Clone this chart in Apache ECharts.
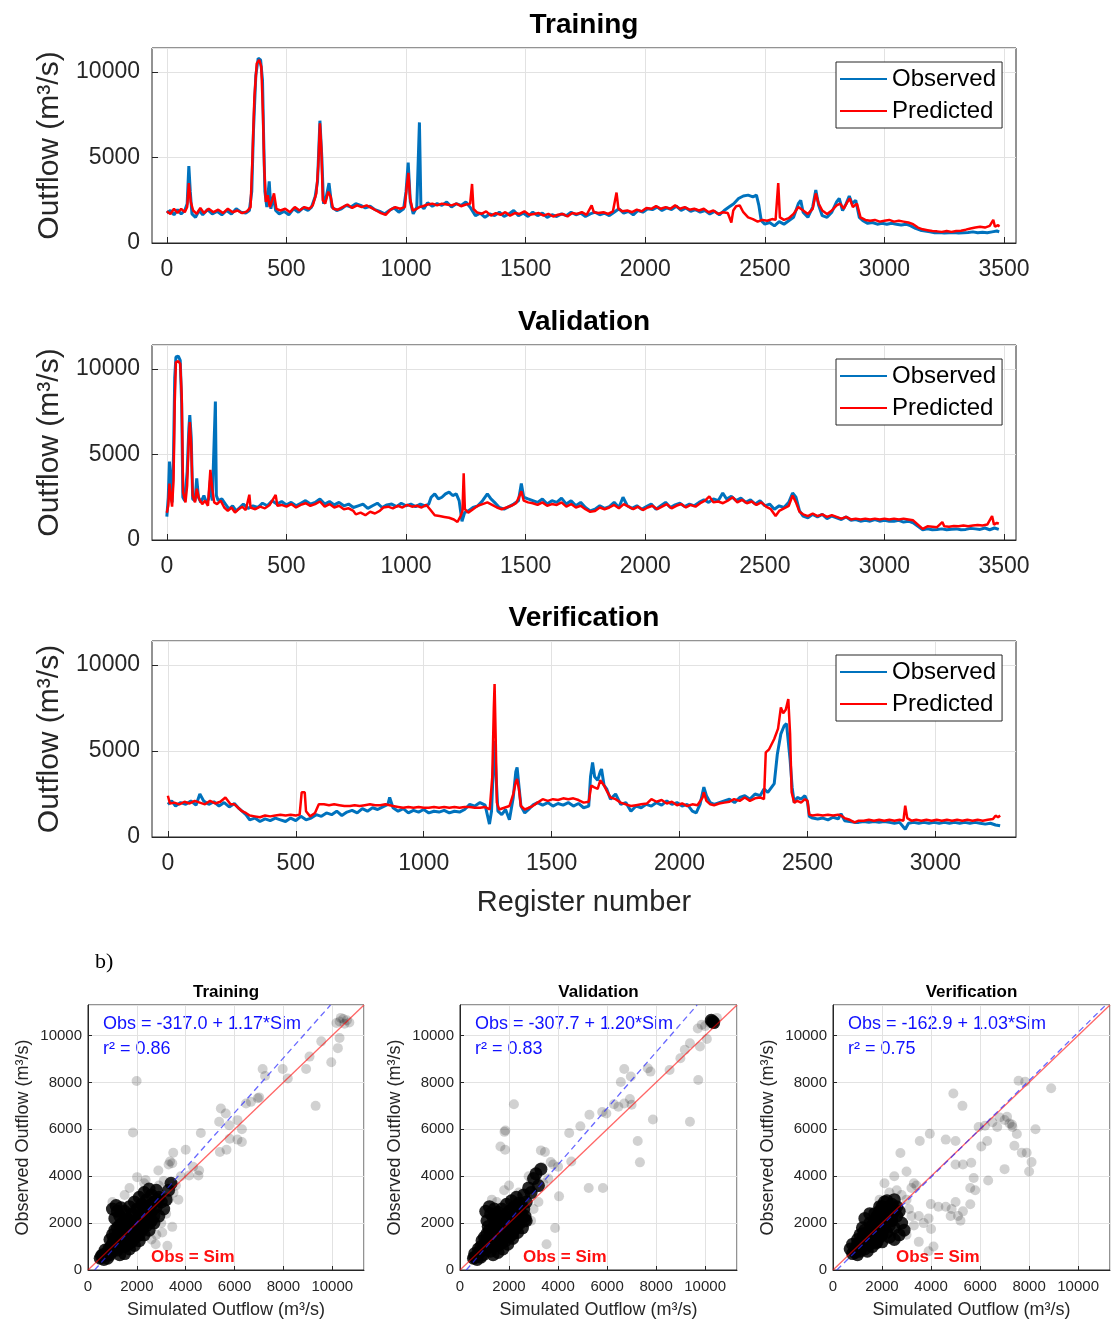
<!DOCTYPE html>
<html>
<head>
<meta charset="utf-8">
<script src="https://cdn.jsdelivr.net/npm/echarts@6/dist/echarts.min.js"></script>
<style>
  html, body { margin: 0; padding: 0; background: #fff; }
  #chart { width: 1114px; height: 1322px; }
</style>
</head>
<body>
<div id="chart"></div>
<script>
// ---- data ----
const panelNames = ['Training', 'Validation', 'Verification'];
const regTicksLong = [0, 500, 1000, 1500, 2000, 2500, 3000, 3500];
const regTicksShort = [0, 500, 1000, 1500, 2000, 2500, 3000];

// [register, outflow]
const trainObs = [[0,1750],[15,1900],[30,1650],[45,1950],[60,1700],[75,1900],[85,2300],[92,4500],[98,3000],[105,1700],[120,1500],[135,1900],[150,1650],[170,1950],[190,1700],[210,1850],[230,1650],[250,1900],[270,1700],[290,2000],[310,1800],[330,1750],[345,1900],[355,3000],[362,6500],[372,9800],[382,10800],[392,10700],[400,9500],[405,6000],[410,3000],[418,2100],[428,3600],[435,2000],[445,2700],[455,1900],[470,1700],[490,1850],[510,1650],[530,2000],[550,1800],[570,2050],[590,1900],[605,2100],[620,2700],[630,3600],[640,7150],[648,5000],[655,2300],[665,2600],[678,3500],[690,2100],[710,1900],[730,2000],[750,2200],[770,2100],[790,2300],[810,2200],[830,2050],[850,2150],[870,1950],[890,1850],[910,1700],[930,1900],[950,2050],[970,1800],[990,2000],[1000,3000],[1009,4700],[1018,2400],[1030,1700],[1045,2100],[1056,7050],[1062,2200],[1075,2000],[1090,2350],[1110,2150],[1130,2300],[1150,2200],[1170,2400],[1190,2100],[1210,2300],[1230,2200],[1250,2400],[1270,2050],[1290,1600],[1310,1750],[1330,1500],[1350,1700],[1370,1600],[1390,1800],[1410,1550],[1430,1700],[1450,1900],[1470,1600],[1490,1750],[1510,1550],[1530,1800],[1550,1600],[1570,1750],[1590,1500],[1610,1650],[1630,1550],[1650,1700],[1670,1600],[1690,1800],[1710,1650],[1730,1750],[1750,1550],[1770,1700],[1790,1800],[1810,1650],[1830,1750],[1850,1600],[1870,1800],[1890,2000],[1910,1750],[1930,1850],[1950,1650],[1970,1900],[1990,1800],[2010,2000],[2030,1950],[2050,2100],[2070,1900],[2090,2050],[2110,1950],[2130,2150],[2150,1900],[2170,2050],[2190,1850],[2210,1950],[2230,1800],[2250,1900],[2270,1700],[2290,1850],[2310,1650],[2330,1900],[2350,2100],[2370,2300],[2390,2600],[2410,2750],[2430,2800],[2450,2700],[2465,2800],[2475,2200],[2485,1300],[2500,1100],[2520,1200],[2540,1000],[2560,1250],[2580,1100],[2600,1300],[2620,1500],[2640,2300],[2650,2500],[2660,1800],[2680,1500],[2700,2100],[2713,3100],[2725,2200],[2740,1600],[2760,1500],[2780,1800],[2800,2400],[2811,2600],[2825,1900],[2840,2300],[2853,2750],[2865,2300],[2880,2500],[2895,1500],[2910,1300],[2930,1150],[2950,1200],[2970,1100],[2990,1150],[3010,1100],[3030,1150],[3050,1100],[3070,1050],[3090,1100],[3110,1000],[3130,850],[3150,750],[3170,700],[3190,650],[3210,600],[3230,620],[3250,580],[3270,600],[3290,620],[3310,580],[3330,600],[3350,620],[3370,650],[3390,600],[3410,630],[3430,600],[3450,650],[3470,700],[3480,650]];
const trainPred = [[0,1850],[15,1700],[30,2000],[45,1750],[60,2000],[75,1800],[85,2100],[92,3500],[100,2400],[110,1900],[125,1700],[140,2050],[155,1750],[175,2000],[195,1800],[215,1950],[235,1750],[255,2000],[275,1800],[295,1900],[315,1750],[335,1850],[350,2100],[358,5000],[366,8500],[376,10500],[386,10700],[395,10300],[402,7500],[407,4500],[414,2400],[422,2800],[430,2100],[440,2500],[448,2900],[458,2000],[475,1900],[495,2000],[515,1800],[535,2100],[555,1900],[575,2100],[595,2000],[610,2200],[625,2900],[633,4500],[640,7000],[646,5500],[652,2500],[662,2300],[675,3000],[685,2700],[695,2000],[715,1950],[735,2100],[755,2250],[775,2050],[795,2200],[815,2100],[835,2200],[855,2050],[875,1900],[895,1750],[915,1650],[935,1950],[955,2100],[975,2000],[995,2100],[1003,3300],[1010,4100],[1017,2600],[1028,1900],[1045,2000],[1056,2100],[1070,2150],[1090,2250],[1110,2300],[1130,2200],[1150,2300],[1170,2250],[1190,2200],[1210,2300],[1230,2150],[1250,2250],[1268,2300],[1276,3450],[1282,2000],[1295,1800],[1315,1700],[1335,1850],[1355,1600],[1375,1750],[1395,1650],[1415,1800],[1435,1600],[1455,1750],[1475,1700],[1495,1850],[1515,1650],[1535,1700],[1555,1750],[1575,1600],[1595,1700],[1615,1550],[1635,1650],[1655,1700],[1675,1550],[1695,1750],[1715,1700],[1735,1800],[1755,1650],[1776,2200],[1785,1800],[1805,1750],[1825,1800],[1845,1700],[1865,1850],[1880,2950],[1888,2000],[1905,1850],[1925,1900],[1945,1800],[1965,1950],[1985,1850],[2005,2050],[2025,2000],[2045,2150],[2065,2000],[2085,2100],[2105,2000],[2125,2200],[2145,2000],[2165,2100],[2185,1950],[2205,2000],[2225,1900],[2245,2000],[2265,1800],[2285,1900],[2305,1700],[2325,1800],[2345,1750],[2360,1200],[2368,1900],[2380,2150],[2395,2200],[2410,1800],[2430,1500],[2450,1400],[2470,1250],[2490,1350],[2510,1300],[2530,1400],[2545,1350],[2556,3500],[2563,1500],[2580,1350],[2600,1450],[2620,1700],[2640,2100],[2660,1900],[2680,1700],[2700,2000],[2713,2900],[2725,2300],[2740,1900],[2760,1700],[2780,1900],[2800,2200],[2815,2300],[2830,2000],[2845,2400],[2855,2600],[2868,2100],[2885,2300],[2900,1500],[2920,1350],[2940,1300],[2960,1350],[2980,1250],[3000,1300],[3020,1350],[3040,1250],[3060,1300],[3080,1250],[3100,1200],[3120,1100],[3140,900],[3160,800],[3180,750],[3200,700],[3220,680],[3240,650],[3260,700],[3280,650],[3300,700],[3320,720],[3340,780],[3360,850],[3380,900],[3400,950],[3420,900],[3440,1000],[3455,1350],[3462,950],[3475,1050],[3480,950]];

const validObs = [[0,1370],[6,2500],[11,4590],[16,3500],[22,2200],[28,5000],[33,9500],[38,10700],[48,10750],[56,10500],[62,8000],[67,2500],[75,2300],[85,4000],[92,6500],[96,7300],[102,6000],[108,2400],[118,2300],[125,3600],[132,2500],[142,2200],[155,2600],[165,2200],[175,2400],[182,3500],[190,2300],[197,2200],[203,8100],[207,2600],[215,2300],[230,2400],[245,2100],[260,1800],[275,2000],[290,1700],[305,1900],[320,2100],[340,1850],[360,2000],[380,1900],[400,2150],[420,2000],[440,2300],[460,2100],[480,2250],[500,2050],[520,2200],[540,2000],[560,2150],[580,2300],[600,2100],[620,2200],[640,2400],[660,2100],[680,2250],[700,2050],[720,2200],[740,2000],[760,2100],[780,1900],[800,2000],[820,2100],[840,1850],[860,2000],[880,2150],[900,1900],[920,2050],[940,2100],[960,1950],[980,2150],[1000,2000],[1020,2100],[1040,1950],[1060,2100],[1080,2000],[1095,2100],[1105,2500],[1120,2700],[1135,2400],[1150,2500],[1165,2700],[1180,2800],[1195,2600],[1210,2700],[1222,2300],[1234,1100],[1245,1600],[1260,1700],[1280,1900],[1300,2000],[1320,2300],[1340,2700],[1355,2400],[1370,2200],[1390,1900],[1410,1800],[1430,1950],[1450,2100],[1470,2300],[1482,3300],[1492,2500],[1510,2400],[1530,2300],[1550,2200],[1570,2400],[1590,2100],[1610,2300],[1630,2200],[1650,2450],[1670,2100],[1690,2300],[1710,2000],[1730,2200],[1750,1900],[1770,1700],[1790,1800],[1810,2000],[1830,1850],[1850,1950],[1870,2200],[1890,1900],[1907,2500],[1925,2000],[1945,1850],[1965,2000],[1985,1800],[2005,1950],[2025,2100],[2045,1800],[2065,2000],[2085,2200],[2105,1900],[2125,2050],[2145,2150],[2165,1950],[2185,2100],[2205,2000],[2225,2200],[2245,2350],[2265,2200],[2285,2400],[2305,2300],[2324,2750],[2340,2400],[2360,2550],[2380,2300],[2400,2450],[2420,2200],[2440,2350],[2460,2100],[2480,2300],[2500,2000],[2520,2100],[2540,1800],[2560,2000],[2580,1900],[2600,2200],[2616,2750],[2630,2500],[2645,1700],[2660,1400],[2680,1300],[2700,1500],[2720,1350],[2740,1500],[2760,1250],[2780,1400],[2800,1300],[2820,1200],[2840,1350],[2860,1150],[2880,1200],[2900,1100],[2920,1150],[2940,1100],[2960,1200],[2980,1100],[3000,1150],[3020,1100],[3040,1100],[3060,1150],[3080,1050],[3100,1100],[3120,1000],[3140,800],[3160,600],[3180,650],[3200,600],[3220,620],[3240,650],[3260,600],[3280,630],[3300,650],[3320,600],[3340,620],[3360,680],[3380,650],[3400,620],[3420,700],[3440,600],[3460,700],[3478,620]];
const validPred = [[0,1600],[6,2000],[11,3300],[16,2600],[22,1950],[28,3500],[33,8000],[38,10400],[48,10450],[56,10300],[62,8500],[68,2800],[78,2200],[85,3200],[92,6000],[96,6900],[102,5500],[108,2600],[118,2200],[125,3000],[135,2400],[148,2100],[160,2300],[172,2000],[182,4100],[190,3000],[198,2200],[210,2100],[225,2300],[240,1900],[255,1700],[270,1900],[285,1600],[300,1800],[315,1950],[330,1750],[345,2650],[350,1900],[370,1800],[390,1950],[410,1850],[430,2050],[455,2640],[462,2000],[480,2050],[500,1950],[520,2100],[540,1900],[560,2050],[580,2150],[600,2000],[620,2100],[640,2250],[660,1950],[680,2100],[700,1900],[720,2000],[740,1800],[760,1850],[780,1700],[790,1500],[810,1600],[830,1450],[850,1650],[870,1550],[890,1700],[905,1900],[925,1950],[945,1850],[965,2000],[985,1900],[1005,2050],[1025,1950],[1045,2000],[1065,1900],[1085,2050],[1100,1800],[1120,1450],[1140,1400],[1160,1350],[1180,1300],[1200,1200],[1215,1050],[1228,1400],[1236,1700],[1241,3900],[1246,1800],[1260,1600],[1280,1800],[1300,2000],[1320,2100],[1340,2200],[1360,2050],[1380,1900],[1400,1800],[1420,1900],[1440,2000],[1460,2150],[1475,2600],[1482,2850],[1492,2300],[1510,2200],[1530,2150],[1550,2050],[1570,2200],[1590,2000],[1610,2100],[1630,2050],[1650,2200],[1670,1950],[1690,2100],[1710,1900],[1730,2000],[1750,1800],[1770,1650],[1790,1700],[1810,1900],[1830,1800],[1850,1900],[1870,2050],[1890,1850],[1910,2100],[1930,1950],[1950,1800],[1970,1950],[1990,1750],[2010,1900],[2030,2000],[2050,1800],[2070,1950],[2090,2100],[2110,1850],[2130,2000],[2150,2100],[2170,1900],[2190,2050],[2210,1950],[2230,2150],[2250,2300],[2268,2550],[2285,2200],[2305,2250],[2325,2150],[2345,2300],[2366,2500],[2385,2200],[2405,2350],[2425,2150],[2445,2250],[2465,2050],[2485,2200],[2505,1950],[2525,1800],[2545,1400],[2560,1700],[2580,1850],[2600,2000],[2616,2600],[2630,2200],[2645,1650],[2660,1500],[2680,1400],[2700,1550],[2720,1400],[2740,1500],[2760,1350],[2780,1450],[2800,1350],[2820,1250],[2840,1350],[2860,1200],[2880,1250],[2900,1200],[2920,1250],[2940,1200],[2960,1250],[2980,1200],[3000,1250],[3020,1200],[3040,1250],[3060,1200],[3080,1250],[3100,1200],[3120,1150],[3140,900],[3160,650],[3180,800],[3200,780],[3220,750],[3242,1050],[3250,800],[3270,780],[3290,820],[3310,800],[3330,850],[3350,800],[3370,850],[3390,880],[3410,850],[3430,900],[3450,1400],[3458,900],[3470,1000],[3478,950]];

const verifObs = [[0,1900],[15,2100],[30,1800],[50,2000],[70,1900],[90,2100],[110,1850],[125,2500],[140,2100],[160,1900],[180,2050],[200,1800],[220,2000],[240,1750],[260,1950],[275,1700],[290,1500],[305,1300],[320,1000],[340,1100],[360,900],[380,1050],[400,950],[420,1100],[440,1000],[460,900],[480,1100],[500,950],[520,1200],[540,1000],[560,1100],[580,1300],[600,1200],[620,1400],[640,1300],[660,1500],[680,1250],[700,1450],[720,1550],[740,1400],[760,1650],[780,1500],[800,1700],[820,1600],[840,1750],[860,1900],[867,2300],[880,1700],[900,1500],[920,1650],[940,1400],[960,1550],[980,1450],[1000,1600],[1020,1400],[1040,1500],[1060,1450],[1080,1550],[1100,1400],[1120,1500],[1140,1450],[1160,1600],[1180,1900],[1200,1800],[1220,2000],[1240,1850],[1257,750],[1265,1500],[1272,4000],[1277,5600],[1283,3500],[1290,1500],[1305,1300],[1320,1600],[1335,1000],[1350,2300],[1360,3800],[1365,4050],[1372,3000],[1380,1800],[1395,1400],[1410,1600],[1426,1850],[1445,2000],[1465,1850],[1485,2000],[1505,1800],[1525,1950],[1545,1850],[1565,2000],[1585,1800],[1605,1950],[1625,1700],[1645,1800],[1652,3500],[1660,4340],[1668,3500],[1680,3300],[1690,3800],[1695,3950],[1705,3000],[1715,2800],[1730,2200],[1750,2500],[1770,1900],[1790,2000],[1810,1500],[1830,1800],[1850,1700],[1870,1900],[1890,1800],[1910,2000],[1930,1850],[1950,2100],[1970,1900],[1990,2000],[2010,1800],[2030,1900],[2050,1500],[2065,1400],[2080,1900],[2095,2900],[2105,2400],[2120,2000],[2135,1900],[2155,2000],[2175,2100],[2195,2200],[2215,2000],[2235,2300],[2255,2400],[2275,2200],[2295,2500],[2315,2400],[2330,2800],[2345,2600],[2360,2900],[2370,3100],[2382,4800],[2396,6000],[2409,6470],[2418,6600],[2425,6500],[2432,4500],[2440,2900],[2448,2000],[2460,2300],[2475,2200],[2490,2400],[2500,2050],[2507,1200],[2520,1100],[2540,1050],[2560,1100],[2580,1000],[2600,1150],[2620,1050],[2631,1350],[2645,950],[2665,900],[2684,850],[2700,850],[2720,900],[2740,850],[2760,900],[2780,850],[2800,900],[2820,850],[2840,800],[2860,850],[2882,450],[2895,800],[2915,850],[2935,800],[2955,850],[2975,800],[2995,850],[3015,800],[3035,850],[3055,800],[3075,850],[3095,800],[3115,850],[3135,800],[3155,850],[3175,800],[3195,750],[3215,800],[3235,700],[3253,650]];
const verifPred = [[0,2400],[8,1950],[25,2000],[45,1900],[65,2050],[85,1950],[105,2100],[125,2000],[145,1900],[165,2100],[185,1950],[205,2050],[225,2300],[245,1900],[260,1900],[275,1700],[290,1500],[305,1400],[320,1250],[340,1200],[360,1150],[380,1250],[400,1200],[420,1250],[440,1300],[460,1250],[480,1300],[500,1250],[515,1300],[523,2600],[535,2600],[540,1500],[556,1200],[575,1400],[590,1900],[610,1900],[630,1850],[650,1900],[670,1850],[690,1800],[712,1800],[730,1850],[750,1800],[770,1850],[790,1900],[810,1850],[830,1850],[850,1900],[867,1850],[880,1800],[900,1750],[920,1700],[940,1750],[960,1700],[980,1750],[1000,1700],[1020,1700],[1040,1750],[1060,1700],[1080,1750],[1100,1700],[1120,1750],[1140,1700],[1160,1750],[1180,1750],[1200,1700],[1220,1700],[1240,1750],[1258,1600],[1268,3500],[1274,7500],[1277,8900],[1281,6000],[1286,2000],[1295,1600],[1315,1700],[1335,1800],[1350,2500],[1360,3200],[1365,3370],[1372,2800],[1380,1800],[1395,1600],[1410,1700],[1426,1800],[1445,2000],[1465,2200],[1485,2100],[1505,2200],[1525,2150],[1545,2250],[1565,2200],[1585,2250],[1605,2150],[1625,2000],[1645,2050],[1655,3000],[1665,2900],[1680,2800],[1690,3300],[1695,3370],[1705,3000],[1715,2700],[1730,2300],[1750,2200],[1770,2000],[1790,1900],[1810,1800],[1830,1850],[1850,1900],[1873,1950],[1890,2200],[1910,2050],[1930,2150],[1950,1950],[1970,2050],[1990,1850],[2010,1950],[2030,1800],[2050,1900],[2070,1850],[2090,2300],[2095,2600],[2105,2100],[2120,1900],[2135,1850],[2155,1950],[2175,2000],[2195,2050],[2213,2200],[2235,2100],[2255,2300],[2275,2100],[2295,2250],[2315,2300],[2330,2200],[2337,4920],[2350,5100],[2370,5700],[2385,6300],[2396,7540],[2405,7200],[2415,7400],[2425,8020],[2432,6000],[2438,2600],[2448,2000],[2460,2100],[2475,2000],[2490,2200],[2500,2100],[2507,1300],[2520,1250],[2540,1300],[2560,1250],[2580,1300],[2600,1250],[2620,1300],[2631,1250],[2645,1100],[2665,1000],[2684,850],[2700,950],[2720,950],[2740,1000],[2760,950],[2780,1000],[2800,950],[2820,1000],[2840,950],[2860,1000],[2875,950],[2882,1820],[2890,1100],[2906,950],[2925,1000],[2945,950],[2965,1000],[2985,950],[3005,1000],[3025,950],[3045,1000],[3065,950],[3085,1000],[3105,950],[3125,1000],[3145,950],[3165,1000],[3185,950],[3205,1000],[3225,1050],[3235,1240],[3245,1150],[3253,1250]];

// scatter: [simulated, observed]; dense cloud and scattered points
const trainCloud = [[500,500],[650,450],[800,500],[600,650],[750,700],[900,650],[1000,800],[850,900],[1100,950],[1200,850],[1000,1100],[1300,1050],[1200,1250],[1400,1200],[1500,1000],[1350,1400],[1600,1300],[1500,1550],[1700,1450],[1800,1200],[1650,1700],[1900,1600],[1800,1850],[2000,1800],[2100,1500],[1950,2050],[2200,2000],[2100,2250],[2300,2200],[2400,1900],[2250,2450],[2500,2300],[2400,2600],[2600,2500],[2700,2300],[2550,2750],[2700,2900],[2800,2700],[2900,3100],[2600,3200],[2400,3000],[2200,2800],[2000,2600],[1800,2400],[1600,2200],[1400,2000],[1200,1800],[1000,1500],[900,1300],[1100,2200],[1200,2500],[1000,2600],[1150,2750],[1350,2650],[1500,2500],[1300,2300],[1700,2700],[1900,2900],[2100,3100],[2300,3300],[2500,3450],[2800,3400],[3000,2900],[3100,2600],[2900,2300],[2700,2000],[2500,1700],[2300,1500],[2100,1250],[1900,1050],[1700,900],[1500,700],[1300,650],[1800,1500],[2000,2100],[1600,1900],[1400,1700],[2200,1700],[2600,2100],[3200,3000],[3300,3400],[3400,3700],[700,850],[550,600],[1250,1500],[1050,1250],[1750,2050],[2350,2750],[2850,3000],[1100,1700],[1300,1900],[1500,1850],[1700,2100],[1900,2300],[2100,2500],[2300,2700],[1650,1100],[1950,1400],[2250,1850],[2550,2050],[1150,1400],[950,1000],[800,650]];
const trainSpread = [[1990,8060],[1840,5860],[9320,7000],[10170,10530],[10300,10600],[10450,10700],[10600,10650],[10700,10550],[10350,10750],[10500,10500],[9960,8860],[10230,9460],[10300,9890],[9550,9750],[9070,9100],[8930,8570],[7970,8570],[8180,8170],[7150,8570],[7250,8270],[6950,7320],[6470,7100],[6670,7170],[7010,7360],[5440,6890],[5640,6670],[5370,6320],[5780,6170],[6120,6390],[5400,5030],[5670,5130],[6120,5560],[6300,5460],[4620,5840],[4000,5130],[3490,5000],[3360,4630],[3300,4500],[3450,4550],[2880,4240],[4140,4030],[4520,4030],[4550,4240],[2010,3960],[2360,3840],[3450,3670],[3320,3030],[3450,1840],[3040,1600],[2770,1100],[3250,1030],[2600,1300],[3600,3600],[3800,4000],[3100,3800],[2900,3600],[3500,3300],[3700,3000],[3200,2400],[3000,2000],[2800,1500],[1500,3200],[1700,3500],[1000,2900],[2300,3700],[4300,4400],[6300,6000],[5800,5600]];

const validCloud = [[550,500],[700,450],[850,550],[600,700],[800,750],[950,650],[1000,900],[850,1000],[1150,950],[1250,800],[1050,1150],[1350,1100],[1250,1300],[1450,1250],[1550,1050],[1400,1450],[1650,1400],[1550,1600],[1750,1500],[1850,1250],[1700,1750],[1950,1650],[1850,1900],[2050,1850],[2150,1550],[2000,2100],[2250,2050],[2150,2300],[2350,2250],[2450,2000],[2300,2500],[2500,2400],[2400,2650],[2600,2600],[2650,2300],[2500,2800],[2700,2900],[2200,2700],[2000,2500],[1800,2300],[1600,2100],[1400,1900],[1200,1700],[1000,1400],[900,1250],[1100,2100],[1250,2400],[1050,2500],[1200,2700],[1400,2600],[1550,2450],[1350,2250],[1700,2600],[1900,2800],[2100,2950],[2300,3100],[2600,3200],[2800,3500],[2900,3300],[3000,3900],[3100,4100],[2700,2100],[2550,1800],[2350,1600],[2150,1350],[1950,1100],[1750,900],[1550,750],[1350,650],[1800,1550],[2000,2050],[1600,1850],[1400,1650],[2250,1750],[2650,2150],[3200,3600],[3300,4300],[750,900],[600,550],[1300,1550],[1100,1300],[1800,2050],[2400,2850],[10300,10600],[10350,10550],[10250,10650],[1150,1850],[1450,2150],[1650,2300],[1950,2350],[2250,2600],[1700,1150],[2050,1450],[2350,1950],[1100,1550],[900,850]];
const validSpread = [[2200,7070],[1815,5890],[1850,5950],[1650,5270],[1840,5130],[4455,5840],[4540,4630],[3465,5030],[3300,5100],[3800,4500],[4910,6130],[5280,6620],[5800,6740],[5970,6670],[6280,7070],[6460,6960],[6700,7100],[6930,7290],[7000,7050],[6560,8020],[6700,8570],[6970,8250],[7660,8600],[7770,8460],[8550,8530],[8990,9030],[9170,9390],[9380,9670],[9720,8100],[9790,9530],[10070,9850],[9860,10460],[9380,6320],[7870,6420],[7250,5500],[7340,4590],[5250,3500],[5830,3500],[4040,3140],[3880,1790],[3530,1100],[10200,10530],[10480,10750],[10400,10500],[2640,3240],[2900,3800],[3330,4390],[3100,3500],[2800,4000],[3400,3700],[3600,3900],[3000,2600],[2900,2100],[3200,2900],[1500,2900],[1300,3000],[1800,3400],[2000,3600],[2400,3300],[3700,4600],[4000,4400],[9700,10300],[10000,10400]];

const verifCloud = [[800,700],[1000,650],[700,900],[900,900],[1100,800],[1200,1000],[1000,1100],[1300,900],[1400,1200],[1200,1300],[1500,1100],[1600,1300],[1400,1500],[1700,1400],[1500,1700],[1800,1600],[1600,1900],[1900,1800],[1700,2100],[2000,2000],[1800,2300],[2100,2200],[1900,2500],[2200,2400],[2000,2700],[2300,2600],[2100,2900],[2400,2800],[2500,2500],[2600,2300],[2400,2100],[2300,1900],[2200,1600],[2000,1500],[1800,1200],[1600,1000],[1400,800],[1100,1500],[1300,1700],[1500,2000],[1700,2400],[1900,2700],[2200,2950],[2500,3000],[2600,2700],[2700,2500],[2800,2000],[2900,1700],[2700,1500],[2500,1300],[1200,1800],[1000,1300],[1300,2200],[1500,2400],[800,1100],[2000,1200],[2300,1400],[1600,1600],[1800,1900],[2100,1800],[2400,2300],[2200,2200],[1900,1400],[1100,1150],[1350,1350],[1650,1750],[1950,2100],[2250,2700],[2050,2350],[1750,1150],[2500,1800],[900,750],[1250,1550]];
const verifSpread = [[4910,7530],[5280,7000],[7570,8070],[7840,8030],[8900,7750],[8260,6000],[5940,6100],[6200,6150],[6500,6300],[6800,6500],[7000,6400],[7200,6250],[7300,6200],[7320,6100],[7100,6530],[6700,6100],[7500,5800],[7400,5300],[7700,5000],[7900,5000],[8100,4600],[8000,4200],[7000,4300],[6290,5500],[6050,5270],[5640,4570],[5300,4500],[6330,3820],[5740,3920],[5600,3500],[4840,2600],[5100,2300],[5300,2500],[5600,2800],[5800,3400],[5000,2900],[4800,2300],[5200,2100],[4600,5560],[5000,5500],[3950,5810],[3540,5500],[5000,4500],[3990,2810],[4600,2700],[3900,2200],[4000,1750],[4100,1000],[3900,800],[3000,4200],[3300,3700],[3200,3500],[3400,3600],[2750,4990],[2100,3700],[2500,4000],[3200,2300],[3500,2300],[2800,3200],[3000,3000],[3100,2600],[3300,1900],[3000,1500],[2600,3400],[2300,3300],[1900,3000],[3500,1200],[3700,2000],[4300,2700]];

// linear fits, Obs = a + b*Sim
const fitIntercept = [-317.0, -307.7, -162.9];
const fitSlope = [1.17, 1.20, 1.03];
const fitR2 = [0.86, 0.83, 0.75];

// ---- chart ----
const obsSets = [trainObs, validObs, verifObs];
const predSets = [trainPred, validPred, verifPred];
const cloudSets = [trainCloud, validCloud, verifCloud];
const spreadSets = [trainSpread, validSpread, verifSpread];

const font = '"Liberation Sans", Arial, sans-serif';
const dark = '#262626';
const gridLine = '#e2e2e2';
const blue = '#0072BD';
const red = '#FF0000';
const scatMax = 11300;
const plain = function (v) { return String(v); };

const lineGrids = [
  { left: 152, top: 48, width: 864, height: 195 },
  { left: 152, top: 345, width: 864, height: 195 },
  { left: 152, top: 641, width: 864, height: 196 }
];
const scatGrids = [
  { left: 88, top: 1005, width: 276, height: 265 },
  { left: 460, top: 1005, width: 277, height: 265 },
  { left: 833, top: 1005, width: 277, height: 265 }
];

let grids = [];
let xAxes = [];
let yAxes = [];
let series = [];
let legends = [];
let graphics = [];

lineGrids.forEach(function (g, i) {
  grids.push(Object.assign({ show: true, borderColor: dark, borderWidth: 1, containLabel: false }, g));
  const ticks = i === 2 ? regTicksShort : regTicksLong;
  xAxes.push({
    type: 'value', gridIndex: i,
    min: -62, max: i === 2 ? 3315 : 3550,
    axisLine: { show: true, onZero: false, lineStyle: { color: dark } },
    axisTick: { show: true, inside: true, length: 6, customValues: ticks, lineStyle: { color: dark } },
    axisLabel: { customValues: ticks, fontSize: 23, color: dark, margin: 15, fontFamily: font, formatter: plain },
    splitLine: { show: true, lineStyle: { color: gridLine } },
    name: i === 2 ? 'Register number' : '',
    nameLocation: 'middle', nameGap: 51,
    nameTextStyle: { fontSize: 29, color: dark, fontFamily: font }
  });
  yAxes.push({
    type: 'value', gridIndex: i, position: 'left',
    min: 0, max: 11400, interval: 5000,
    axisLine: { show: false, onZero: false },
    axisTick: { show: true, inside: true, length: 6, lineStyle: { color: dark } },
    axisLabel: { fontSize: 23, color: dark, margin: 12, fontFamily: font, showMaxLabel: false, formatter: plain },
    splitLine: { show: true, lineStyle: { color: gridLine } },
    name: 'Outflow (m³/s)', nameLocation: 'middle', nameGap: 84,
    nameTextStyle: { fontSize: 30, color: dark, fontFamily: font }
  });
  series.push({
    type: 'line', name: 'Observed', xAxisIndex: i, yAxisIndex: i,
    data: obsSets[i], showSymbol: false, symbol: 'none',
    lineStyle: { color: blue, width: 3 }, itemStyle: { color: blue }
  });
  series.push({
    type: 'line', name: 'Predicted', xAxisIndex: i, yAxisIndex: i,
    data: predSets[i], showSymbol: false, symbol: 'none',
    lineStyle: { color: red, width: 2.5 }, itemStyle: { color: red }
  });
  legends.push({
    data: ['Observed', 'Predicted'], orient: 'vertical',
    left: 836, top: g.top + 14,
    backgroundColor: '#fff', borderColor: dark, borderWidth: 1,
    padding: [5, 6, 5, 4], itemGap: 8, itemWidth: 47, itemHeight: 2, icon: 'rect',
    textStyle: { fontSize: 24, color: '#000', fontFamily: font }
  });
  graphics.push({
    type: 'text', x: g.left + g.width / 2, y: g.top - 23,
    style: { text: panelNames[i], font: 'bold 28px ' + font, fill: '#000',
      textAlign: 'center', textVerticalAlign: 'middle', align: 'center', verticalAlign: 'middle' }
  });
});

scatGrids.forEach(function (g, k) {
  const i = k + 3;
  grids.push(Object.assign({ show: true, borderColor: dark, borderWidth: 1, containLabel: false }, g));
  xAxes.push({
    type: 'value', gridIndex: i, min: 0, max: scatMax, interval: 2000,
    axisLine: { show: true, onZero: false, lineStyle: { color: dark } },
    axisTick: { show: true, inside: true, length: 4, lineStyle: { color: dark } },
    axisLabel: { fontSize: 15, color: dark, margin: 9, fontFamily: font, showMaxLabel: false, formatter: plain },
    splitLine: { show: true, lineStyle: { color: gridLine } },
    name: 'Simulated Outflow (m³/s)', nameLocation: 'middle', nameGap: 31,
    nameTextStyle: { fontSize: 18, color: dark, fontFamily: font }
  });
  yAxes.push({
    type: 'value', gridIndex: i, min: 0, max: scatMax, interval: 2000,
    axisLine: { show: true, onZero: false, lineStyle: { color: dark } },
    axisTick: { show: true, inside: true, length: 4, lineStyle: { color: dark } },
    axisLabel: { fontSize: 15, color: dark, margin: 6, fontFamily: font, showMaxLabel: false, formatter: plain },
    splitLine: { show: true, lineStyle: { color: gridLine } },
    name: 'Observed Outflow (m³/s)', nameLocation: 'middle', nameGap: 56,
    nameTextStyle: { fontSize: 18, color: dark, fontFamily: font }
  });
  series.push({
    type: 'scatter', name: 'cloud' + k, xAxisIndex: i, yAxisIndex: i,
    data: cloudSets[k], symbolSize: 13, itemStyle: { color: '#000', opacity: 0.85 }
  });
  series.push({
    type: 'scatter', name: 'spread' + k, xAxisIndex: i, yAxisIndex: i,
    data: spreadSets[k], symbolSize: 10, itemStyle: { color: '#000', opacity: 0.18 }
  });
  // 1:1 line
  series.push({
    type: 'line', name: 'oneToOne' + k, xAxisIndex: i, yAxisIndex: i, z: 5,
    data: [[0, 0], [scatMax, scatMax]], symbol: 'none', silent: true,
    lineStyle: { color: 'rgba(255,0,0,0.6)', width: 1.3 }
  });
  // fitted line, clipped to the box
  const a = fitIntercept[k], b = fitSlope[k];
  const x0 = -a / b;
  let x1 = (scatMax - a) / b, y1 = scatMax;
  if (x1 > scatMax) { x1 = scatMax; y1 = a + b * scatMax; }
  series.push({
    type: 'line', name: 'fit' + k, xAxisIndex: i, yAxisIndex: i, z: 6,
    data: [[x0, 0], [x1, y1]], symbol: 'none', silent: true,
    lineStyle: { color: 'rgba(40,40,255,0.7)', width: 1.3, type: [6, 4] }
  });

  graphics.push({
    type: 'text', x: g.left + g.width / 2, y: 992,
    style: { text: panelNames[k], font: 'bold 17px ' + font, fill: '#000',
      textAlign: 'center', textVerticalAlign: 'middle', align: 'center', verticalAlign: 'middle' }
  });
  graphics.push({
    type: 'text', x: g.left + 15, y: g.top + 19,
    style: { text: 'Obs = ' + a.toFixed(1) + ' + ' + b.toFixed(2) + '*Sim', font: '18px ' + font, fill: '#1010ff',
      textAlign: 'left', textVerticalAlign: 'middle', align: 'left', verticalAlign: 'middle' }
  });
  graphics.push({
    type: 'text', x: g.left + 15, y: g.top + 44,
    style: { text: 'r² = ' + fitR2[k].toFixed(2), font: '18px ' + font, fill: '#1010ff',
      textAlign: 'left', textVerticalAlign: 'middle', align: 'left', verticalAlign: 'middle' }
  });
  graphics.push({
    type: 'text', x: g.left + 63, y: g.top + 252,
    style: { text: 'Obs = Sim', font: 'bold 17px ' + font, fill: '#ff1010',
      textAlign: 'left', textVerticalAlign: 'middle', align: 'left', verticalAlign: 'middle' }
  });
});

graphics.push({
  type: 'text', x: 95, y: 962,
  style: { text: 'b)', font: '22px "Liberation Serif", "Times New Roman", serif', fill: '#000',
    textAlign: 'left', textVerticalAlign: 'middle', align: 'left', verticalAlign: 'middle' }
});

const option = {
  animation: false,
  backgroundColor: '#fff',
  textStyle: { fontFamily: font },
  grid: grids,
  xAxis: xAxes,
  yAxis: yAxes,
  legend: legends,
  series: series,
  graphic: graphics
};

const chart = echarts.init(document.getElementById('chart'));
chart.setOption(option);
</script>
</body>
</html>
